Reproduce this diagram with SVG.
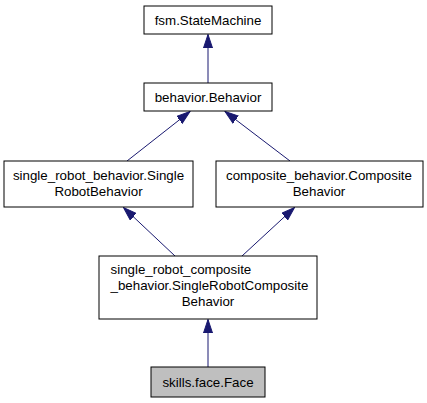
<svg xmlns="http://www.w3.org/2000/svg" width="427" height="403" viewBox="0 0 427 403">
<style>
  .box { fill: #ffffff; stroke: #000000; stroke-width: 1; }
  .cur { fill: #bfbfbf; stroke: #000000; stroke-width: 1; }
  text { font-family: "Liberation Sans", Arial, Helvetica, sans-serif; font-size: 13.33px; fill: #000000; }
  .c { text-anchor: middle; }
  .l { text-anchor: start; }
  .edge { stroke: #191970; stroke-width: 1; fill: none; marker-end: url(#arr); }
</style>
<defs>
  <marker id="arr" markerUnits="userSpaceOnUse" markerWidth="14" markerHeight="10" refX="13.5" refY="5" orient="auto">
    <path d="M0,0.5 L13.5,5 L0,9.5 Z" fill="#191970" stroke="#191970" stroke-width="1"/>
  </marker>
</defs>
<rect width="427" height="403" fill="#ffffff"/>
<g id="edges">
  <line class="edge" x1="208" y1="83" x2="208" y2="34.5"/>
  <line class="edge" x1="127" y1="161" x2="190" y2="111.5"/>
  <line class="edge" x1="290" y1="161" x2="225" y2="111.5"/>
  <line class="edge" x1="175" y1="256" x2="123.5" y2="207.5"/>
  <line class="edge" x1="242" y1="256" x2="294.5" y2="207.5"/>
  <line class="edge" x1="208" y1="367" x2="208" y2="319.5"/>
</g>
<g id="node-fsm-StateMachine">
  <rect class="box" x="144" y="6" width="128" height="28"/>
  <text class="c" x="208" y="24.5">fsm.StateMachine</text>
</g>
<g id="node-behavior-Behavior">
  <rect class="box" x="144" y="83" width="128" height="28"/>
  <text class="c" x="208" y="101.5">behavior.Behavior</text>
</g>
<g id="node-single-robot-behavior">
  <rect class="box" x="4" y="161" width="189" height="46"/>
  <text class="c" x="98.5" y="179.5">single_robot_behavior.Single</text>
  <text class="c" x="98.5" y="195.5">RobotBehavior</text>
</g>
<g id="node-composite-behavior">
  <rect class="box" x="216" y="161" width="207" height="46"/>
  <text class="c" x="319" y="179.5">composite_behavior.Composite</text>
  <text class="c" x="319" y="195.5">Behavior</text>
</g>
<g id="node-single-robot-composite">
  <rect class="box" x="99" y="256" width="218" height="63"/>
  <text class="l" x="110.5" y="273.5">single_robot_composite</text>
  <text class="l" x="110.5" y="289.5">_behavior.SingleRobotComposite</text>
  <text class="c" x="208" y="305.5">Behavior</text>
</g>
<g id="node-skills-face-Face">
  <rect class="cur" x="151" y="367" width="114" height="30"/>
  <text class="c" x="208" y="386.5">skills.face.Face</text>
</g>
</svg>
